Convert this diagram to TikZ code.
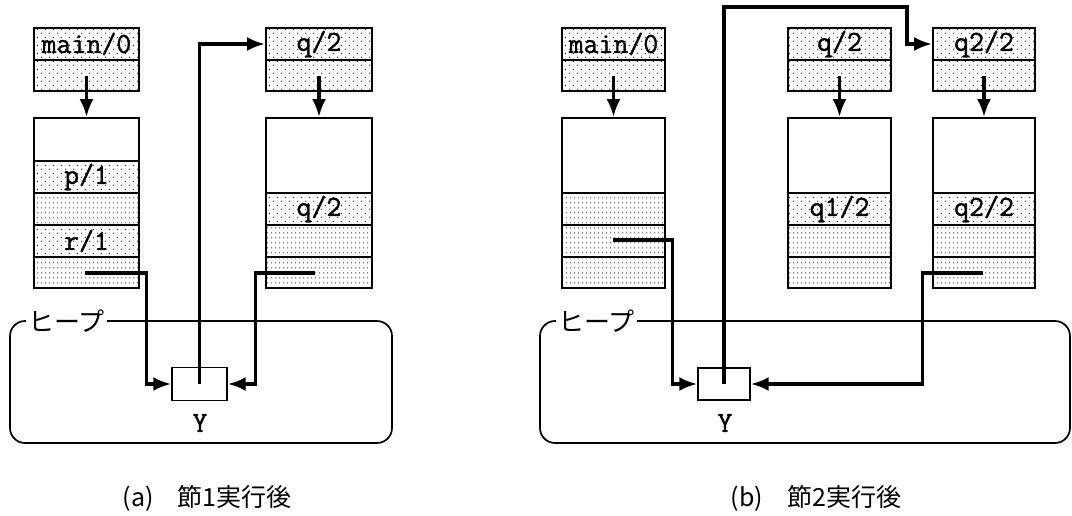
\documentclass[tikz,border=0pt]{standalone}
\usepackage{fontspec}
\newfontfamily\mono[FakeBold=1.2]{Latin Modern Mono}
\newfontfamily\jp{Noto Sans CJK JP}
\usetikzlibrary{arrows.meta,patterns.meta,calc}
\tikzdeclarepattern{
  name=sdots,
  type=uncolored,
  bottom left={(0pt,0pt)},
  top right={(8pt,8pt)},
  tile size={(8pt,8pt)},
  code={\fill (2pt,2pt) circle (0.75pt); \fill (6pt,6pt) circle (0.75pt);}
}
\tikzdeclarepattern{
  name=ddots,
  type=uncolored,
  bottom left={(0pt,0pt)},
  top right={(3.6pt,5pt)},
  tile size={(3.6pt,5pt)},
  code={\fill (1.8pt,2.5pt) circle (0.7pt);}
}
\newcommand\cellnode[7]{%
  \node[#6, minimum width={(#4-#2)*1pt}, minimum height={(#5-#3)*1pt}] (#1) at ({(#2+#4)/2},{(#3+#5)/2}) {#7};}
\begin{document}
\begin{tikzpicture}[x=1pt,y=-1pt,
  cellbase/.style={draw, line width=1.8pt, inner sep=0pt, font=\mono\fontsize{29}{29}\selectfont},
  white/.style={cellbase, fill=white},
  sparse/.style={cellbase, pattern=sdots, pattern color=black!85},
  dense/.style={cellbase, pattern=ddots, pattern color=black!85},
  ybox/.style={draw, line width=1.4pt, fill=white, inner sep=0pt},
  conn/.style={line width=3.4pt, line join=miter},
  tip/.style={-{Latex[length=18pt,width=14pt]}},
  heap/.style={draw, line width=1.7pt, rounded corners=15pt},
  heaplabel/.style={fill=white, inner sep=2pt, font=\jp\fontsize{26}{26}\selectfont, anchor=west},
  ylabel/.style={font=\mono\fontsize{29}{29}\selectfont},
  caption/.style={font=\jp\fontsize{25}{25}\selectfont}
]
\useasboundingbox (0,0) rectangle (1072,515);

% ---------------- panel (a) ----------------
\draw[heap] (10,321) rectangle (392,443);
\node[heaplabel] (ha) at (26,321) {ヒープ};

\cellnode{mA1}{34}{28}{139}{60}{sparse}{main/0}
\cellnode{mA2}{34}{60}{139}{91}{sparse}{}
\cellnode{sA1}{34}{118}{139}{161}{white}{}
\cellnode{sA2}{34}{161}{139}{193}{sparse}{p/1}
\cellnode{sA3}{34}{193}{139}{225}{dense}{}
\cellnode{sA4}{34}{225}{139}{257}{sparse}{r/1}
\cellnode{sA5}{34}{257}{139}{288}{dense}{}

\cellnode{qA1}{266}{28}{372}{60}{sparse}{q/2}
\cellnode{qA2}{266}{60}{372}{91}{sparse}{}
\cellnode{tA1}{266}{118}{372}{193}{white}{}
\cellnode{tA2}{266}{193}{372}{225}{sparse}{q/2}
\cellnode{tA3}{266}{225}{372}{257}{dense}{}
\cellnode{tA4}{266}{257}{372}{288}{dense}{}

\node[ybox, minimum width=55pt, minimum height=33pt] (YA) at (199.5,384) {};
\node[ylabel] (yla) at (200,423) {Y};

\draw[conn,tip] (mA2.center) -- (sA1.north);
\draw[conn,tip] (qA2.center) -- (tA1.north);

\coordinate (pA) at (85,273);
\coordinate (rA) at (315,273);
\draw[conn,tip] (pA) -| ([xshift=-25pt]YA.west) -- (YA.west);
\draw[conn,tip] (rA) -| ([xshift=28pt]YA.east) -- (YA.east);
\draw[conn,tip] (YA.center) |- (qA1.west);

\node[caption] (capa) at (207,498) {(a)\hspace{24pt}節1実行後};

% ---------------- panel (b) ----------------
\draw[heap] (540,321) rectangle (1070,443);
\node[heaplabel] (hb) at (556,321) {ヒープ};

\cellnode{mB1}{562}{28}{665}{60}{sparse}{main/0}
\cellnode{mB2}{562}{60}{665}{91}{sparse}{}
\cellnode{sB1}{562}{118}{665}{193}{white}{}
\cellnode{sB2}{562}{193}{665}{225}{dense}{}
\cellnode{sB3}{562}{225}{665}{257}{dense}{}
\cellnode{sB4}{562}{257}{665}{288}{dense}{}

\cellnode{qB1}{788}{28}{891}{60}{sparse}{q/2}
\cellnode{qB2}{788}{60}{891}{91}{sparse}{}
\cellnode{tB1}{788}{118}{891}{193}{white}{}
\cellnode{tB2}{788}{193}{891}{225}{sparse}{q1/2}
\cellnode{tB3}{788}{225}{891}{257}{dense}{}
\cellnode{tB4}{788}{257}{891}{288}{dense}{}

\cellnode{uB1}{933}{28}{1035}{60}{sparse}{q2/2}
\cellnode{uB2}{933}{60}{1035}{91}{sparse}{}
\cellnode{vB1}{933}{118}{1035}{193}{white}{}
\cellnode{vB2}{933}{193}{1035}{225}{sparse}{q2/2}
\cellnode{vB3}{933}{225}{1035}{257}{dense}{}
\cellnode{vB4}{933}{257}{1035}{288}{dense}{}

\node[ybox, minimum width=52pt, minimum height=32pt] (YB) at (724,384) {};
\node[ylabel] (ylb) at (725,423) {Y};

\draw[conn,tip] (mB2.center) -- (sB1.north);
\draw[conn,tip] (qB2.center) -- (tB1.north);
\draw[conn,tip] (uB2.center) -- (vB1.north);

\coordinate (pB) at (613,240);
\coordinate (rB) at (983,273);
\coordinate (topB) at (907,7);
\draw[conn,tip] (pB) -| ([xshift=-25pt]YB.west) -- (YB.west);
\draw[conn,tip] (rB) -| ([xshift=172pt]YB.east) -- (YB.east);
\draw[conn,tip] (YB.center) |- (topB) |- (uB1.west);

\node[caption] (capb) at (816,498) {(b)\hspace{24pt}節2実行後};
\end{tikzpicture}
\end{document}
